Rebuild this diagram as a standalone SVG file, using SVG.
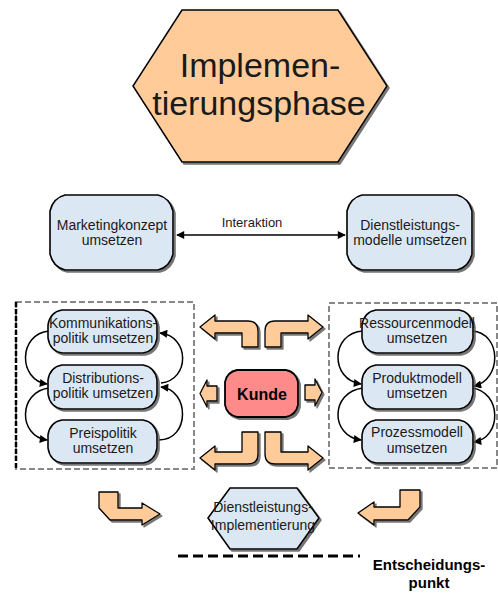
<svg xmlns="http://www.w3.org/2000/svg" width="498" height="593" viewBox="0 0 498 593">
  <defs>
    <style>
      .node { fill: #dce7f4; stroke: #000; stroke-width: 1.6; filter: url(#shadow); }
      .phase { fill: #ffcc99; stroke: #000; stroke-width: 1.5; filter: url(#shadow); }
      .kunde { fill: #ff8a8a; stroke: #000; stroke-width: 1.8; filter: url(#shadow); }
      .flow { fill: #ffcc99; stroke: #000; stroke-width: 1.3; stroke-linejoin: round; filter: url(#shadow); }
      .lbl { font-family: "Liberation Sans", Arial, sans-serif; font-size: 14px; fill: #1a1a1a; text-anchor: middle; }
      .bold { font-family: "Liberation Sans", Arial, sans-serif; font-weight: bold; fill: #000; text-anchor: middle; }
      .frame { fill: none; stroke: #888; stroke-width: 2; stroke-dasharray: 6 3; }
      .frame-edge { fill: none; stroke: #000; stroke-width: 2.5; stroke-dasharray: 5 2; }
      .curl { fill: none; stroke: #000; stroke-width: 1.5; marker-end: url(#head); }
    </style>
    <filter id="shadow" x="-10%" y="-10%" width="130%" height="130%">
      <feDropShadow dx="2" dy="2" stdDeviation="0.7" flood-color="#555" flood-opacity="0.8"/>
    </filter>
    <marker id="head" viewBox="0 0 10 10" refX="9" refY="5" markerWidth="9" markerHeight="8" markerUnits="userSpaceOnUse" orient="auto-start-reverse">
      <path d="M0,0 L10,5 L0,10 Z" fill="#000"/>
    </marker>
  </defs>

  <!-- phase heading -->
  <g id="phase">
    <polygon class="phase" points="182,10 338,10 387,86 338,162 182,162 133,86"/>
    <text class="lbl" x="260" y="77" style="font-size:34px">Implemen-</text>
    <text class="lbl" x="259" y="115" style="font-size:34px">tierungsphase</text>
  </g>

  <!-- group frames -->
  <g id="frames">
    <rect class="frame" x="16" y="302" width="178" height="167"/>
    <line class="frame-edge" x1="16" y1="302" x2="16" y2="469"/>
    <rect class="frame" x="329" y="303" width="168" height="165"/>
  </g>

  <!-- connectors -->
  <g id="connectors">
    <line x1="177" y1="235" x2="345" y2="235" stroke="#000" stroke-width="1.5" marker-start="url(#head)" marker-end="url(#head)"/>
    <text class="lbl" x="252" y="227" style="font-size:13px">Interaktion</text>
    <!-- marketing mix -->
    <path class="curl" d="M49,331 C18,334 18,380 47,384"/>
    <path class="curl" d="M49,388 C18,392 18,436 47,440"/>
    <path class="curl" d="M159,440 C190,440 190,390 161,387"/>
    <path class="curl" d="M161,383 C190,380 190,336 160,333"/>
    <!-- service models -->
    <path class="curl" d="M363,331 C330,333 330,380 361,384"/>
    <path class="curl" d="M363,388 C330,392 330,436 361,440"/>
    <path class="curl" d="M472,331 C502,333 502,380 474,386"/>
    <path class="curl" d="M472,388 C502,392 502,438 474,442"/>
  </g>

  <!-- flow arrows around the customer -->
  <g id="flow-arrows">
    <path class="flow" d="M242,347 L242,333 L215,333 L215,339 L200,327 L215,315 L215,321 L248,321 Q258,321 258,331 L258,347 Z"/>
    <path class="flow" d="M281,347 L281,333 L308,333 L308,339 L323,327 L308,315 L308,321 L275,321 Q265,321 265,331 L265,347 Z"/>
    <path class="flow" d="M242,432 L242,452 L215,452 L215,446 L200,458 L215,470 L215,464 L248,464 Q258,464 258,454 L258,432 Z"/>
    <path class="flow" d="M281,432 L281,452 L308,452 L308,446 L323,458 L308,470 L308,464 L275,464 Q265,464 265,454 L265,432 Z"/>
    <path class="flow" d="M217,386 L207,386 L207,380 L200,393.5 L207,407 L207,401 L217,401 Z"/>
    <path class="flow" d="M305,385 L315,385 L315,379 L322,392.5 L315,406 L315,400 L305,400 Z"/>
    <path class="flow" d="M99,492 L118,492 L118,508 L142,508 L142,503 L160,514 L142,525 L142,520 L110,520 L99,508 Z"/>
    <path class="flow" d="M420,490 L400,490 L400,507 L374,507 L374,502 L358,513 L374,525 L374,520 L408,520 L420,507 Z"/>
  </g>

  <g id="marketingkonzept">
    <path class="node" d="M65,195 H158 Q170,198 173,211 V254 Q170,267 158,270 H65 Q53,267 50,254 V211 Q53,198 65,195 Z"/>
    <text class="lbl" x="112" y="230">Marketingkonzept</text>
    <text class="lbl" x="112" y="245">umsetzen</text>
  </g>

  <g id="dienstleistungsmodelle">
    <path class="node" d="M362,195 H457 Q469,198 472,211 V254 Q469,267 457,270 H362 Q350,267 347,254 V211 Q350,198 362,195 Z"/>
    <text class="lbl" x="410" y="230">Dienstleistungs-</text>
    <text class="lbl" x="410" y="245">modelle umsetzen</text>
  </g>

  <g id="kommunikationspolitik">
    <path class="node" d="M62,310 H143 Q155,312 157,325 V338 Q155,351 143,353 H62 Q50,351 48,338 V325 Q50,312 62,310 Z"/>
    <text class="lbl" x="103" y="328">Kommunikations-</text>
    <text class="lbl" x="103" y="343">politik umsetzen</text>
  </g>

  <g id="distributionspolitik">
    <path class="node" d="M62,365 H143 Q155,367 157,380 V394 Q155,407 143,409 H62 Q50,407 48,394 V380 Q50,367 62,365 Z"/>
    <text class="lbl" x="103" y="383">Distributions-</text>
    <text class="lbl" x="103" y="398">politik umsetzen</text>
  </g>

  <g id="preispolitik">
    <path class="node" d="M62,420 H143 Q155,422 157,435 V448 Q155,461 143,463 H62 Q50,461 48,448 V435 Q50,422 62,420 Z"/>
    <text class="lbl" x="103" y="438">Preispolitik</text>
    <text class="lbl" x="103" y="453">umsetzen</text>
  </g>

  <g id="ressourcenmodell">
    <path class="node" d="M376,310 H459 Q471,312 473,325 V338 Q471,351 459,353 H376 Q364,351 362,338 V325 Q364,312 376,310 Z"/>
    <text class="lbl" x="417" y="328">Ressourcenmodell</text>
    <text class="lbl" x="417" y="343">umsetzen</text>
  </g>

  <g id="produktmodell">
    <path class="node" d="M376,365 H459 Q471,367 473,380 V394 Q471,407 459,409 H376 Q364,407 362,394 V380 Q364,367 376,365 Z"/>
    <text class="lbl" x="417" y="383">Produktmodell</text>
    <text class="lbl" x="417" y="398">umsetzen</text>
  </g>

  <g id="prozessmodell">
    <path class="node" d="M376,420 H459 Q471,422 473,435 V448 Q471,461 459,463 H376 Q364,461 362,448 V435 Q364,422 376,420 Z"/>
    <text class="lbl" x="417" y="437">Prozessmodell</text>
    <text class="lbl" x="417" y="453">umsetzen</text>
  </g>

  <g id="kunde">
    <path class="kunde" d="M237,370 H286 Q296,372 298,382 V405 Q296,415 286,417 H237 Q227,415 225,405 V382 Q227,372 237,370 Z"/>
    <text class="bold" x="262" y="400" style="font-size:16px">Kunde</text>
  </g>

  <g id="dienstleistungsimplementierung">
    <polygon class="node" points="230,488 297,488 319,518 297,549 230,549 208,518"/>
    <text class="lbl" x="263" y="512">Dienstleistungs-</text>
    <text class="lbl" x="263" y="530">Implementierung</text>
  </g>

  <g id="entscheidungspunkt">
    <line x1="178" y1="556" x2="360" y2="556" stroke="#000" stroke-width="3" stroke-dasharray="10 5"/>
    <text class="bold" x="429" y="570" style="font-size:15px">Entscheidungs-</text>
    <text class="bold" x="429" y="588" style="font-size:15px">punkt</text>
  </g>
</svg>
